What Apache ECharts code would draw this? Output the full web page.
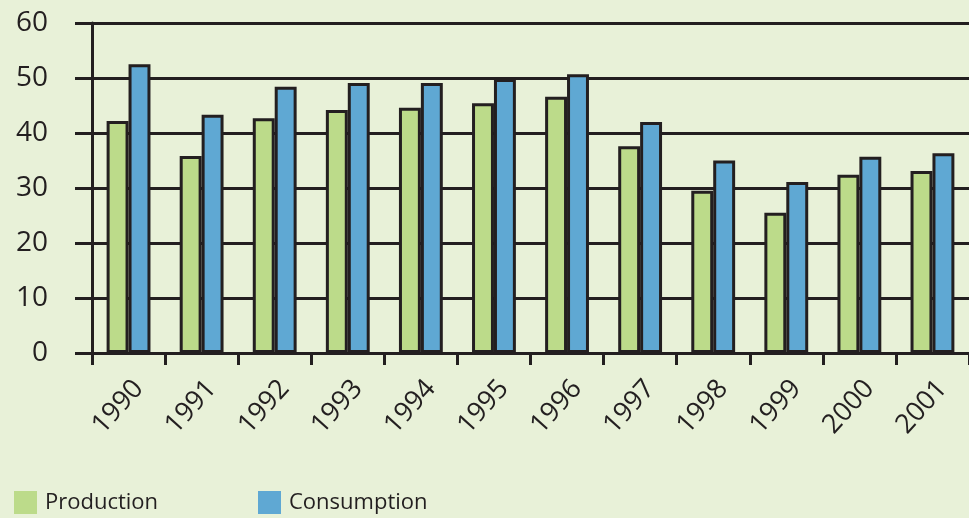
<!DOCTYPE html>
<html>
<head>
<meta charset="utf-8">
<script src="https://cdn.jsdelivr.net/npm/echarts@6/dist/echarts.min.js"></script>
<style>
  html, body { margin: 0; padding: 0; background: #e8f1d8; }
  #chart { width: 969px; height: 518px; }
</style>
</head>
<body>
<div id="chart"></div>
<script>
const years = ['1990', '1991', '1992', '1993', '1994', '1995', '1996', '1997', '1998', '1999', '2000', '2001']
const production = [42.2, 35.8, 42.7, 44.2, 44.6, 45.4, 46.6, 37.6, 29.5, 25.5, 32.4, 33.1]
const consumption = [52.5, 43.3, 48.4, 49.1, 49.1, 49.8, 50.7, 42.0, 35.0, 31.1, 35.7, 36.3]

const ink = '#231f20'
const font = 'Open Sans'

const legendBase = {
  top: 486,
  icon: 'rect', itemWidth: 23, itemHeight: 23, itemGap: 0,
  itemStyle: { borderWidth: 0 },
  textStyle: { fontSize: 22, color: ink, fontFamily: font, padding: [0, 0, 0, 3] }
}

const chart = echarts.init(document.getElementById('chart'))
chart.setOption({
  backgroundColor: '#e8f1d8',
  animation: false,
  textStyle: { fontFamily: font, color: ink },
  grid: { left: 92, top: 23, bottom: 165, width: 886 },
  legend: [
    Object.assign({ data: ['Production'], left: 9 }, legendBase),
    Object.assign({ data: ['Consumption'], left: 253 }, legendBase)
  ],
  xAxis: {
    type: 'category',
    data: years,
    boundaryGap: true,
    axisLine: { lineStyle: { color: ink, width: 3 } },
    axisTick: { show: true, length: 12, lineStyle: { color: ink, width: 3 } },
    axisLabel: { rotate: 48, fontSize: 27, color: ink, fontFamily: font, margin: 22, verticalAlign: 'top' }
  },
  yAxis: {
    type: 'value',
    min: 0, max: 60, interval: 10,
    axisLine: { show: true, lineStyle: { color: ink, width: 3 } },
    axisTick: { show: true, length: 17, lineStyle: { color: ink, width: 3 } },
    axisLabel: { fontSize: 28, color: ink, fontFamily: font, margin: 44 },
    splitLine: { show: true, lineStyle: { color: ink, width: 3 } }
  },
  series: [
    {
      name: 'Production',
      type: 'bar',
      data: production,
      barGap: '0%',
      barCategoryGap: '40%',
      itemStyle: { color: '#bcdb8a', borderColor: ink, borderWidth: 3 }
    },
    {
      name: 'Consumption',
      type: 'bar',
      data: consumption,
      itemStyle: { color: '#5fa8d3', borderColor: ink, borderWidth: 3 }
    }
  ]
})
</script>
</body>
</html>
